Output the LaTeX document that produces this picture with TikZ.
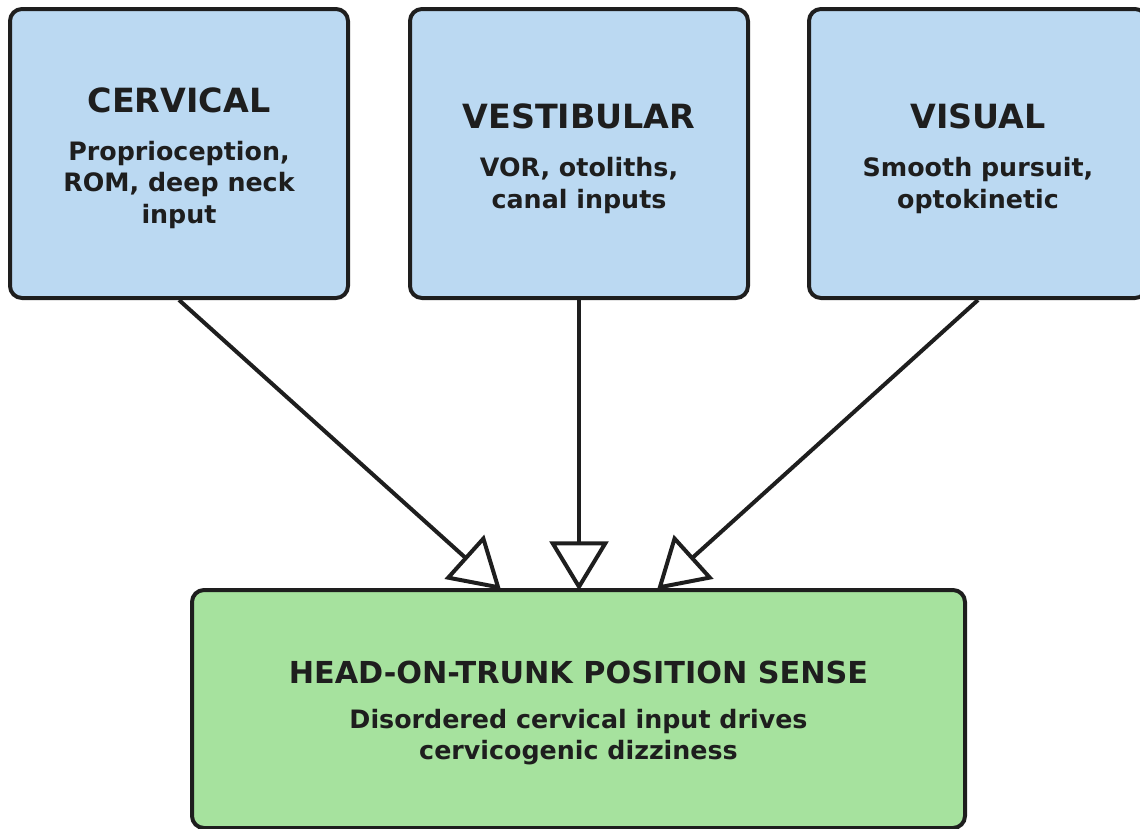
\documentclass[tikz,border=0pt]{standalone}
\usepackage{fontspec}
\setmainfont{DejaVu Sans}
\usetikzlibrary{arrows.meta,calc}
\definecolor{boxblue}{RGB}{187,217,242}
\definecolor{boxgreen}{RGB}{166,226,158}
\definecolor{ink}{RGB}{30,30,30}
\tikzset{
  box/.style={draw=ink, line width=3pt, rounded corners=9pt, inner sep=0pt},
  bluebox/.style={box, fill=boxblue, minimum width=253.5pt, minimum height=216.75pt},
  greenbox/.style={box, fill=boxgreen, minimum width=579.75pt, minimum height=178.5pt},
  ttl/.style={text=ink, font=\bfseries\fontsize{25}{29}\selectfont, inner sep=0pt},
  bttl/.style={text=ink, font=\bfseries\fontsize{22.7}{26}\selectfont, inner sep=0pt},
  sub/.style={text=ink, font=\bfseries\fontsize{19}{23.4}\selectfont, align=center, inner sep=0pt},
  conn/.style={draw=ink, line width=3pt, -{Triangle[open, length=37pt, width=44pt, line width=3pt]}, shorten >=-2pt}
}
\begin{document}
\begin{tikzpicture}[x=0.75pt, y=-0.75pt]
\useasboundingbox (0,0) rectangle (1140,829);
\node[bluebox] (cerv) at (179,153.5) {};
\node[bluebox] (vest) at (579,153.5) {};
\node[bluebox] (vis) at (978,153.5) {};
\node[greenbox] (head) at (578.5,709) {};
\node[ttl] (cervt) at (179,100) {CERVICAL};
\node[sub] (cervs) at (179,185) {Proprioception,\\ROM, deep neck\\input};
\node[ttl] (vestt) at (579,116) {VESTIBULAR};
\node[sub] (vests) at (579,185.5) {VOR, otoliths,\\canal inputs};
\node[ttl] (vist) at (978,116) {VISUAL};
\node[sub] (viss) at (978,185.5) {Smooth pursuit,\\optokinetic};
\node[bttl] (headt) at (578.5,672) {HEAD-ON-TRUNK POSITION SENSE};
\node[sub] (heads) at (578.5,737.5) {Disordered cervical input drives\\cervicogenic dizziness};
\coordinate (tl) at ($(head.north)+(-79.5,0)$);
\coordinate (tr) at ($(head.north)+(80.5,0)$);
\draw[conn] (cerv.south) -- (tl);
\draw[conn] (vest.south) -- (vest.south |- head.north);
\draw[conn] (vis.south) -- (tr);
\end{tikzpicture}
\end{document}
